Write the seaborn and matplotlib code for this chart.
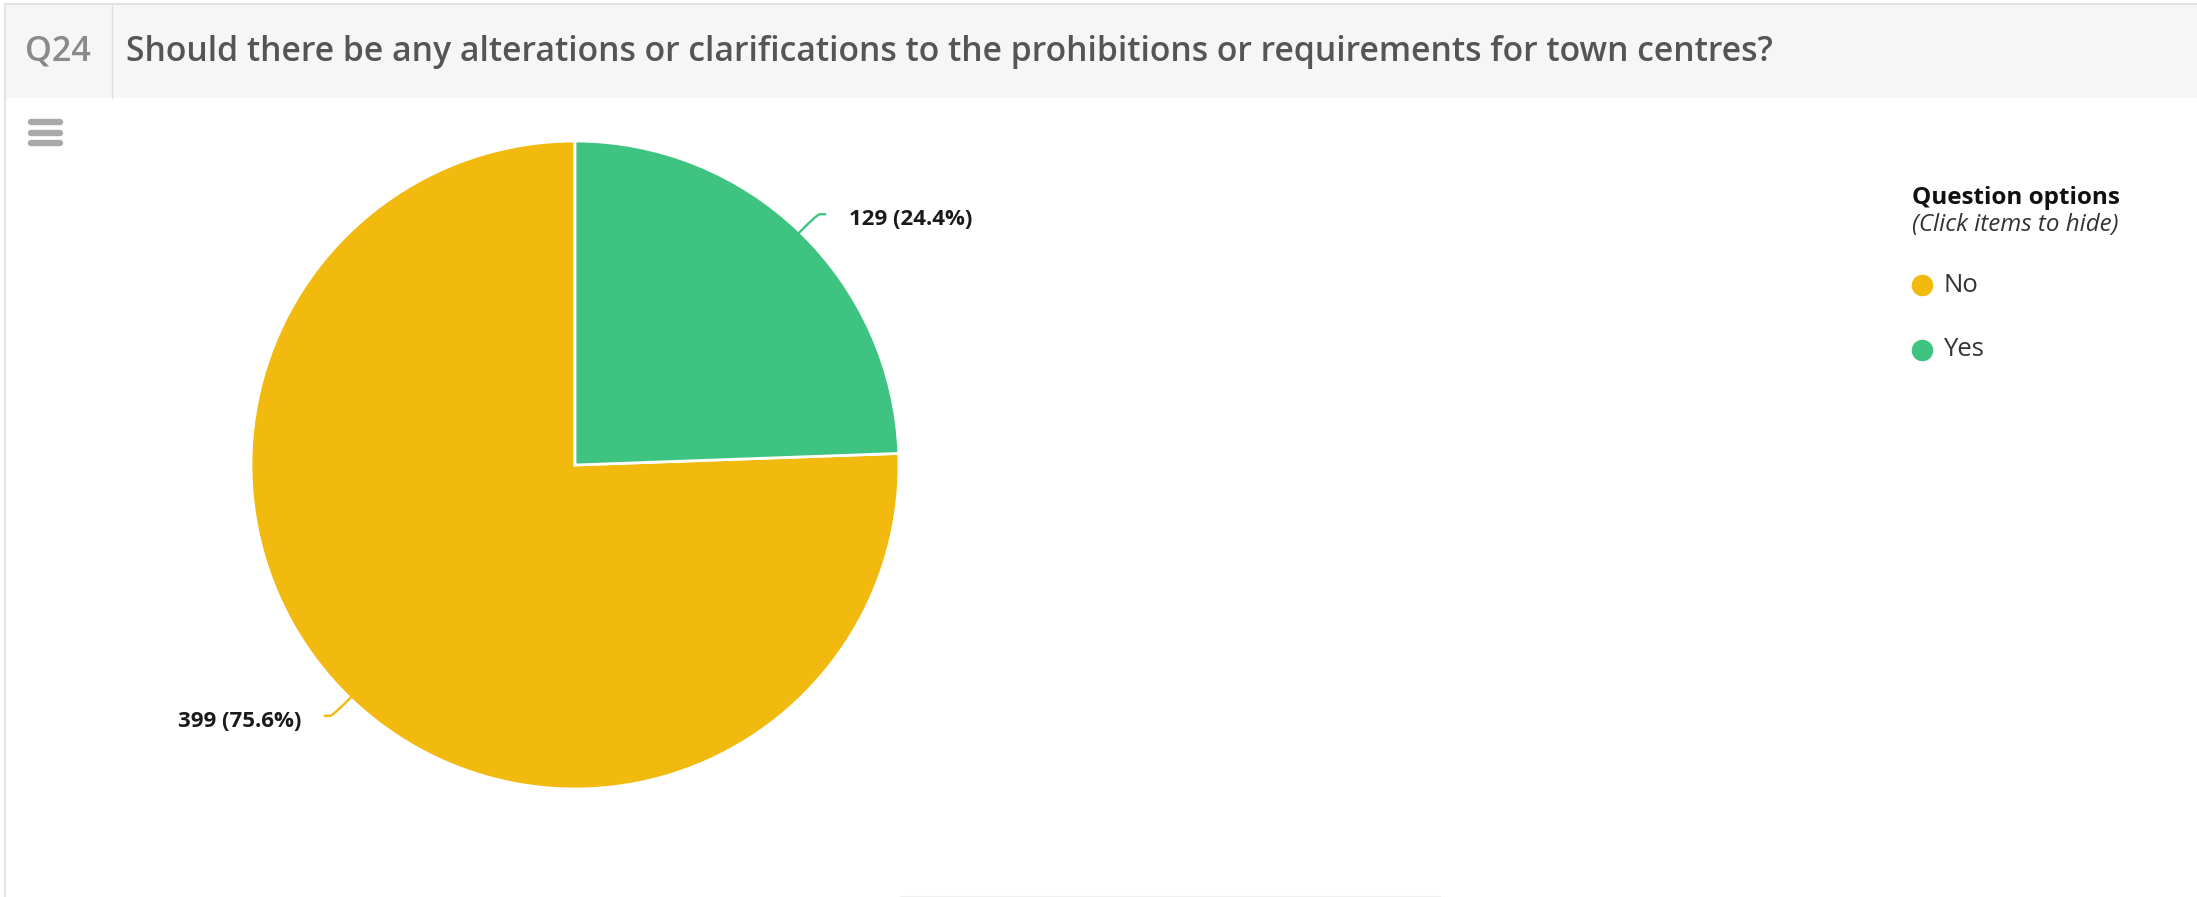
import numpy as np
import matplotlib
matplotlib.use("Agg")
import matplotlib.pyplot as plt
import seaborn as sns
from matplotlib.lines import Line2D
from matplotlib.path import Path
from matplotlib.patches import PathPatch, Rectangle

# ---- data ----
question_id = "Q24"
question = ("Should there be any alterations or clarifications to the "
            "prohibitions or requirements for town centres?")
options = ["No", "Yes"]
counts = [399, 129]
option_colors = ["#f2b90f", "#3fc380"]
legend_title = "Question options"
legend_hint = "(Click items to hide)"

sns.set_theme(style="white")
plt.rcParams["font.family"] = ["Open Sans", "DejaVu Sans"]
palette = sns.color_palette(option_colors)

W, H = 2197, 897
fig = plt.figure(figsize=(W / 100, H / 100), dpi=100)
fig.patch.set_facecolor("white")


def fx(x):
    return x / W


def fy(y):
    return 1 - y / H


def fit_width(txt, target_px):
    """Rescale a text's font size so its rendered width equals target_px."""
    r = fig.canvas.get_renderer()
    w = txt.get_window_extent(renderer=r).width
    txt.set_fontsize(txt.get_fontsize() * target_px / w)


# ---- page frame and header band ----
fig.add_artist(Rectangle((fx(5), fy(98)), 1 - fx(5), 93 / H,
                         transform=fig.transFigure, facecolor="#f6f6f6",
                         edgecolor="none", zorder=0))
fig.add_artist(Line2D([fx(5), 1], [fy(4.5), fy(4.5)], color="#e2e2e2", lw=1.5))
fig.add_artist(Line2D([fx(5), fx(5)], [fy(4), 0], color="#e4e4e4", lw=1.5))
fig.add_artist(Line2D([fx(112), fx(112)], [fy(5), fy(98)], color="#e0e0e0", lw=1))
fig.add_artist(Line2D([fx(900), fx(1440)], [fy(896), fy(896)], color="#f0f0f0", lw=1))

qid = fig.text(fx(25), fy(52), question_id, ha="left", va="center",
               color="#8a8a8a", fontsize=20, fontweight="semibold")
title = fig.text(fx(126), fy(52), question, ha="left", va="center",
                 color="#555555", fontsize=20, fontweight="semibold")
fit_width(qid, 66)
fit_width(title, 1649)

# menu icon
for yy in (122, 133, 143):
    fig.add_artist(Line2D([fx(31), fx(60)], [fy(yy), fy(yy)], color="#a9a9a9",
                          lw=4.6, solid_capstyle="round"))

# ---- pie ----
cx, cy, r = 575, 465, 324
ax = fig.add_axes([fx(cx - r), fy(cy + r), 2 * r / W, 2 * r / H])
wedges, _ = ax.pie(counts, colors=palette, startangle=90, counterclock=True,
                   wedgeprops=dict(edgecolor="white", linewidth=2))
ax.set_xlim(-1, 1)
ax.set_ylim(-1, 1)
ax.set_aspect("equal")
ax.axis("off")

total = sum(counts)
for w, n, col in zip(wedges, counts, palette):
    th = np.deg2rad((w.theta1 + w.theta2) / 2)
    c, s = np.cos(th), np.sin(th)
    sign = 1 if c >= 0 else -1
    edge = (c * 0.99, s * 0.99)
    elbow = (c * 1.07, s * 1.07)
    bend = (elbow[0] + sign * 0.012, elbow[1] + 0.004 * np.sign(s))
    end = (elbow[0] + sign * 0.032, bend[1])
    path = Path([edge, elbow, bend, end],
                [Path.MOVETO, Path.CURVE3, Path.CURVE3, Path.LINETO])
    ax.add_patch(PathPatch(path, facecolor="none", edgecolor=col, lw=1.7,
                           clip_on=False))
    lbl = ax.text(end[0] + sign * 0.07, end[1] - 0.017,
                  f"{n} ({n / total * 100:.1f}%)",
                  ha="left" if sign > 0 else "right", va="center",
                  fontsize=14, fontweight="bold", color="#1a1a1a", clip_on=False)
    fit_width(lbl, 124)

# ---- legend ----
lt = fig.text(fx(1912), fy(198), legend_title, ha="left", va="center",
              fontsize=16, fontweight="bold", color="#111111")
lh = fig.text(fx(1912), fy(225), legend_hint, ha="left", va="center",
              fontsize=13, fontstyle="italic", color="#333333")
fit_width(lt, 208)
fit_width(lh, 205)

for i, (lab, col) in enumerate(zip(options, palette)):
    yy = 285 + i * 65
    fig.add_artist(Line2D([fx(1922)], [fy(yy)], marker="o", markersize=14.5,
                          markerfacecolor=col, markeredgecolor=col, lw=0))
    fig.text(fx(1943), fy(yy), lab, ha="left", va="center", fontsize=18.5,
             color="#333333")

fig.savefig("out.png", dpi=100)
